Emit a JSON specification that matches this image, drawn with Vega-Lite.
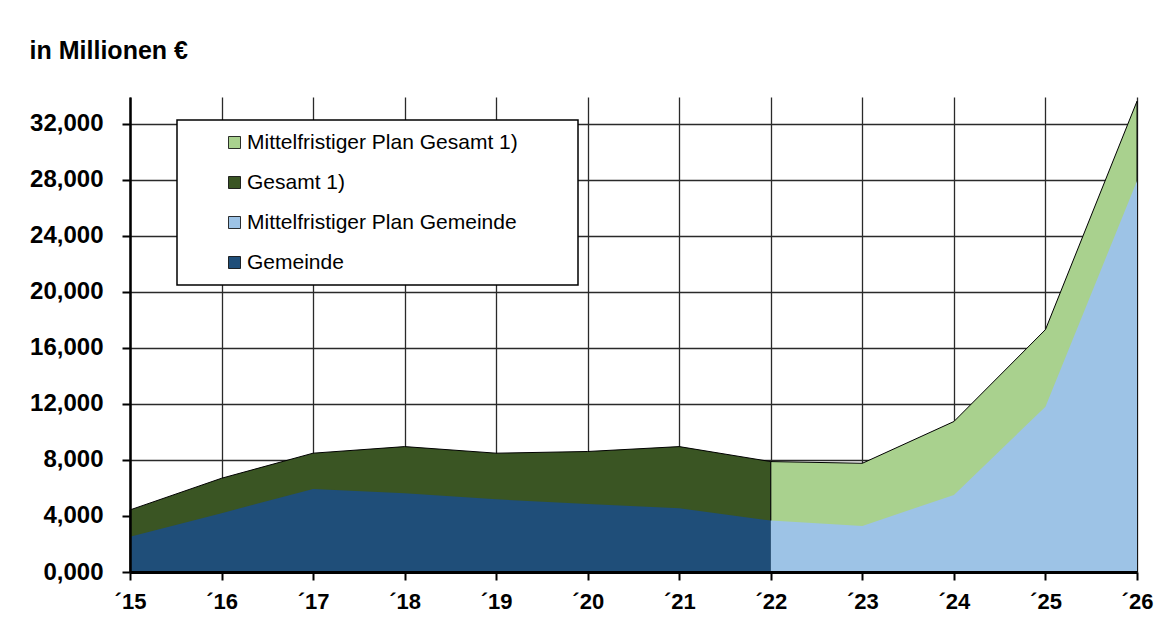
{
  "$schema": "https://vega.github.io/schema/vega-lite/v6.json",
  "autosize": {"type": "none"},
  "padding": {"left": 130, "top": 97, "right": 23, "bottom": 62},
  "width": 1007,
  "height": 475,
  "background": "white",
  "title": {
    "text": "in Millionen €",
    "anchor": "start",
    "frame": "bounds",
    "font": "Liberation Sans",
    "fontSize": 25,
    "fontWeight": "bold",
    "color": "black",
    "offset": 33
  },
  "data": {
    "values": [
      {"year": 2015, "series": "Gesamt 1)", "value": 4430},
      {"year": 2016, "series": "Gesamt 1)", "value": 6690},
      {"year": 2017, "series": "Gesamt 1)", "value": 8480},
      {"year": 2018, "series": "Gesamt 1)", "value": 8950},
      {"year": 2019, "series": "Gesamt 1)", "value": 8480},
      {"year": 2020, "series": "Gesamt 1)", "value": 8600},
      {"year": 2021, "series": "Gesamt 1)", "value": 8950},
      {"year": 2022, "series": "Gesamt 1)", "value": 7880},
      {"year": 2015, "series": "Gemeinde", "value": 2520},
      {"year": 2016, "series": "Gemeinde", "value": 4200},
      {"year": 2017, "series": "Gemeinde", "value": 5930},
      {"year": 2018, "series": "Gemeinde", "value": 5620},
      {"year": 2019, "series": "Gemeinde", "value": 5190},
      {"year": 2020, "series": "Gemeinde", "value": 4860},
      {"year": 2021, "series": "Gemeinde", "value": 4550},
      {"year": 2022, "series": "Gemeinde", "value": 3670},
      {"year": 2022, "series": "Mittelfristiger Plan Gesamt 1)", "value": 7880},
      {"year": 2023, "series": "Mittelfristiger Plan Gesamt 1)", "value": 7760},
      {"year": 2024, "series": "Mittelfristiger Plan Gesamt 1)", "value": 10740},
      {"year": 2025, "series": "Mittelfristiger Plan Gesamt 1)", "value": 17300},
      {"year": 2026, "series": "Mittelfristiger Plan Gesamt 1)", "value": 33600},
      {"year": 2022, "series": "Mittelfristiger Plan Gemeinde", "value": 3670},
      {"year": 2023, "series": "Mittelfristiger Plan Gemeinde", "value": 3290},
      {"year": 2024, "series": "Mittelfristiger Plan Gemeinde", "value": 5500},
      {"year": 2025, "series": "Mittelfristiger Plan Gemeinde", "value": 11800},
      {"year": 2026, "series": "Mittelfristiger Plan Gemeinde", "value": 27900}
    ]
  },
  "resolve": {"axis": {"x": "independent", "y": "independent"}},
  "layer": [
    {
      "transform": [{"filter": "datum.series === 'Gesamt 1)'"}],
      "mark": {"type": "area", "stroke": "black", "strokeWidth": 1, "opacity": 1},
      "encoding": {
        "x": {
          "field": "year", "type": "quantitative",
          "scale": {"domain": [2015, 2026], "nice": false, "zero": false},
          "axis": {"orient": "bottom", "values": [2015,2016,2017,2018,2019,2020,2021,2022,2023,2024,2025,2026], "grid": true, "domain": false, "ticks": false, "labels": false, "title": null, "zindex": 0, "gridColor": "#2a2a2a", "gridWidth": 1.3, "gridOpacity": 1}
        },
        "y": {
          "field": "value", "type": "quantitative", "stack": null,
          "scale": {"domain": [0, 33900], "nice": false},
          "axis": {"orient": "left", "values": [0,4000,8000,12000,16000,20000,24000,28000,32000], "grid": true, "domain": false, "ticks": false, "labels": false, "title": null, "zindex": 0, "gridColor": "#2a2a2a", "gridWidth": 1.3, "gridOpacity": 1}
        },
        "color": {
          "field": "series", "type": "nominal",
          "scale": {
            "domain": ["Mittelfristiger Plan Gesamt 1)", "Gesamt 1)", "Mittelfristiger Plan Gemeinde", "Gemeinde"],
            "range": ["#a9d18e", "#3a5523", "#9dc3e6", "#1f4e79"]
          },
          "legend": {
            "title": "\u00a0",
            "titleOrient": "right",
            "titlePadding": 48,
            "titleFontSize": 10,
            "orient": "none",
            "legendX": 47,
            "legendY": 23,
            "direction": "vertical",
            "padding": 12,
            "strokeColor": "black",
            "fillColor": "white",
            "symbolType": "square",
            "symbolSize": 144,
            "symbolOffset": 35,
            "symbolStrokeColor": "#222",
            "symbolStrokeWidth": 0.8,
            "symbolOpacity": 1,
            "labelOffset": 2,
            "labelFont": "Liberation Sans",
            "labelFontSize": 21,
            "labelColor": "black",
            "labelLimit": 600,
            "rowPadding": 18
          }
        }
      }
    },
    {
      "layer": [
        {
          "transform": [{"filter": "datum.series === 'Mittelfristiger Plan Gesamt 1)'"}],
          "mark": {"type": "area", "stroke": "black", "strokeWidth": 1, "opacity": 1},
          "encoding": {
            "x": {
              "field": "year", "type": "quantitative",
              "axis": {"orient": "bottom", "values": [2015,2016,2017,2018,2019,2020,2021,2022,2023,2024,2025,2026], "grid": false, "domain": true, "domainColor": "black", "domainWidth": 3, "ticks": true, "tickColor": "black", "tickWidth": 2, "tickSize": 8, "labels": true, "labelExpr": "'´' + substring(toString(datum.value), 2)", "labelFont": "Liberation Sans", "labelFontSize": 22, "labelFontWeight": "bold", "labelColor": "black", "labelPadding": 11, "labelFlush": false, "labelOverlap": false, "title": null, "zindex": 1}
            },
            "y": {
              "field": "value", "type": "quantitative", "stack": null,
              "axis": {"orient": "left", "values": [0,4000,8000,12000,16000,20000,24000,28000,32000], "grid": false, "domain": true, "domainColor": "black", "domainWidth": 2.5, "ticks": true, "tickColor": "black", "tickWidth": 2, "tickSize": 8, "labels": true, "labelExpr": "datum.value == 0 ? '0,000' : format(datum.value, ',')", "labelFont": "Liberation Sans", "labelFontSize": 24, "labelFontWeight": "bold", "labelColor": "black", "labelPadding": 19, "labelOverlap": false, "labelFlush": false, "title": null, "zindex": 1}
            },
            "color": {"field": "series", "type": "nominal"}
          }
        },
        {
          "transform": [{"filter": "datum.series === 'Gemeinde'"}],
          "mark": {"type": "area", "opacity": 1},
          "encoding": {
            "x": {"field": "year", "type": "quantitative"},
            "y": {"field": "value", "type": "quantitative", "stack": null},
            "color": {"field": "series", "type": "nominal"}
          }
        },
        {
          "transform": [{"filter": "datum.series === 'Mittelfristiger Plan Gemeinde'"}],
          "mark": {"type": "area", "opacity": 1},
          "encoding": {
            "x": {"field": "year", "type": "quantitative"},
            "y": {"field": "value", "type": "quantitative", "stack": null},
            "color": {"field": "series", "type": "nominal"}
          }
        }
      ]
    }
  ],
  "config": {
    "view": {"stroke": null},
    "font": "Liberation Sans",
    "legend": {"strokeWidth": 1.5}
  }
}
